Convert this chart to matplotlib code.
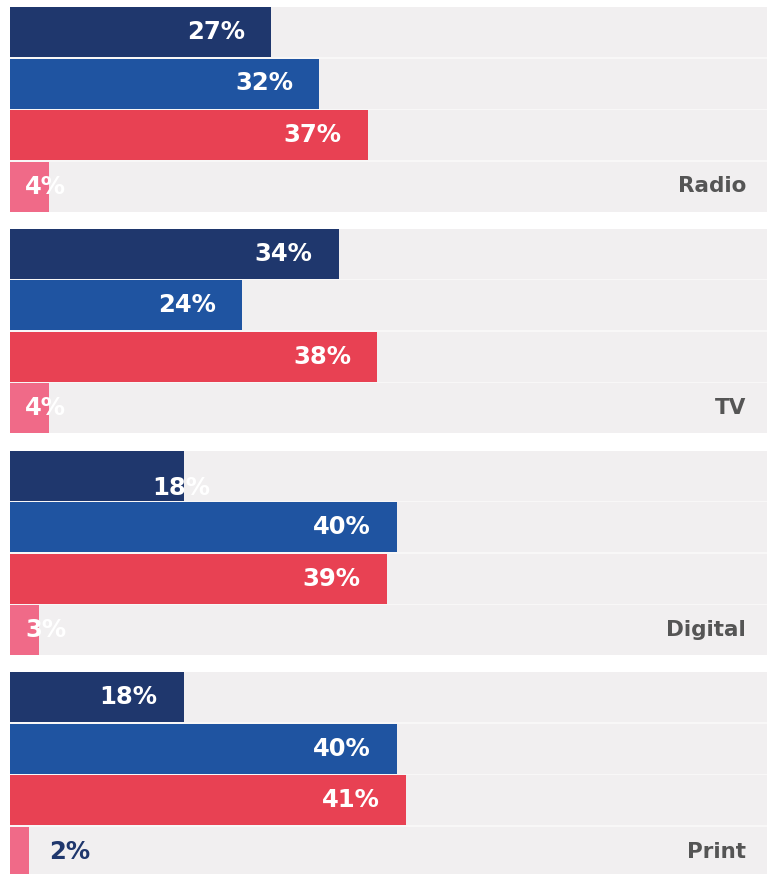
import matplotlib
matplotlib.use("Agg")
import matplotlib.pyplot as plt

# Share of answers per media channel (%)
channels = ["Radio", "TV", "Digital", "Print"]
series_a = [27, 34, 18, 18]   # navy
series_b = [32, 24, 40, 40]   # blue
series_c = [37, 38, 39, 41]   # red
series_d = [4, 4, 3, 2]       # pink

colors = ["#1f376d", "#1f54a1", "#e84153", "#f06a88"]
row_bg = "#f1eff0"
gap_bg = "#f8f7f7"
label_grey = "#555555"
navy = "#1f376d"

W, H = 767, 874
fig = plt.figure(figsize=(W / 100, H / 100), dpi=100)
fig.patch.set_facecolor("white")
left_px = 10
ax = fig.add_axes([left_px / W, 0, (W - left_px) / W, 1])
xmax = 78.3
ax.set_xlim(0, xmax)
ax.set_ylim(H, 0)
ax.axis("off")

top = 7
row_step = 51.5
bar_h = 50
group_step = 221.8
group_h = 3 * row_step + bar_h

font = "DejaVu Sans"
vsize = 17.5

series = [series_a, series_b, series_c, series_d]
for g, name in enumerate(channels):
    g_top = top + g * group_step
    ax.barh(g_top + group_h / 2, xmax, height=group_h, left=0,
            color=gap_bg, zorder=0)
    for r in range(4):
        y = g_top + r * row_step + bar_h / 2
        v = series[r][g]
        ax.barh(y, xmax, height=bar_h, left=0, color=row_bg, zorder=1)
        ax.barh(y, v, height=bar_h, left=0, color=colors[r], zorder=2)
        label = f"{v}%"
        if v < 3:
            ax.annotate(label, (v, y), xytext=(14, 0), textcoords="offset points",
                        ha="left", va="center", color=navy, fontsize=vsize,
                        fontweight="bold", family=font, zorder=3)
        elif v <= 4:
            ax.annotate(label, (0, y), xytext=(11, 0), textcoords="offset points",
                        ha="left", va="center", color="white", fontsize=vsize,
                        fontweight="bold", family=font, zorder=3)
        elif name == "Digital" and r == 0:
            ax.annotate(label, (v, y), xytext=(-2, -9), textcoords="offset points",
                        ha="center", va="center", color="white", fontsize=vsize,
                        fontweight="bold", family=font, zorder=3)
        else:
            ax.annotate(label, (v, y), xytext=(-19, 0), textcoords="offset points",
                        ha="right", va="center", color="white", fontsize=vsize,
                        fontweight="bold", family=font, zorder=3)
    y_last = g_top + 3 * row_step + bar_h / 2
    ax.annotate(name, (xmax, y_last), xytext=(-15, 0), textcoords="offset points",
                ha="right", va="center", color=label_grey, fontsize=15.5,
                fontweight="bold", family=font, zorder=3)

fig.savefig("out.png", dpi=100, facecolor="white")
